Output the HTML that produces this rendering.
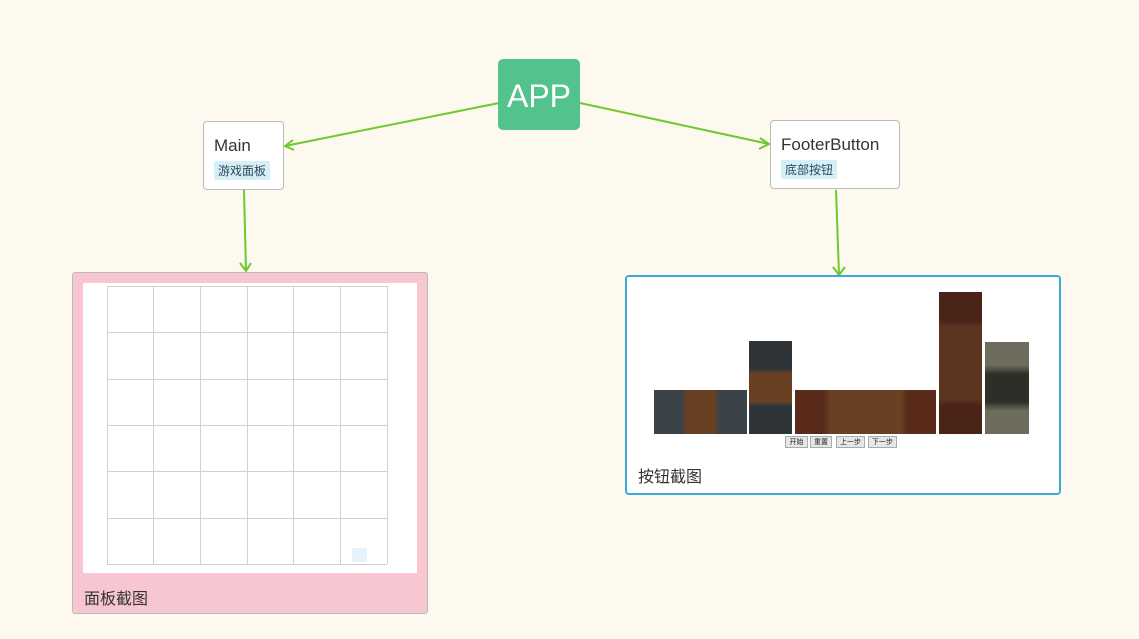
<!DOCTYPE html>
<html><head><meta charset="utf-8"><style>
body{margin:0;width:1139px;height:639px;background:#fdf9ee;position:relative;overflow:hidden;font-family:"Liberation Sans","Noto Sans CJK SC",sans-serif}
.a{position:absolute;box-sizing:border-box}
.node{background:#fff;border:1px solid #bbb;border-radius:4px;color:#333}
.tag{position:absolute;background:#d5eef7;color:#2b4a5a;font-size:12px;padding:1px 4px;border-radius:2px}
.btn{position:absolute;top:436px;height:12px;background:#e6e6e6;border:1px solid #aaa;font-size:7px;line-height:11px;text-align:center;box-sizing:border-box;color:#222}
</style></head><body>
<svg class="a" style="left:0;top:0" width="1139" height="639">
<g stroke="#6fc82e" stroke-width="2" fill="none">
<line x1="499" y1="103" x2="285" y2="146"/><polyline points="293,140 285,146 294,150"/>
<line x1="580" y1="103" x2="769" y2="144"/><polyline points="760,138 769,144 759,149"/>
<line x1="244" y1="190" x2="246" y2="271"/><polyline points="240,263 246,271 251,263"/>
<line x1="836" y1="190" x2="839" y2="275"/><polyline points="833,267 839,275 845,267"/>
</g></svg>
<div class="a" style="left:498px;top:59px;width:82px;height:71px;background:#52c48b;border-radius:5px;color:#fff;font-size:32px;text-align:center;line-height:74px">APP</div>
<div class="a node" style="left:203px;top:121px;width:81px;height:69px"><div style="position:absolute;left:10px;top:14px;font-size:17px">Main</div><div class="tag" style="left:10px;top:39px">游戏面板</div></div>
<div class="a node" style="left:770px;top:120px;width:130px;height:69px"><div style="position:absolute;left:10px;top:14px;font-size:17px">FooterButton</div><div class="tag" style="left:10px;top:39px">底部按钮</div></div>
<div class="a" style="left:72px;top:272px;width:356px;height:342px;background:#f8c6d0;border:1px solid #bbb;border-radius:3px">
<div style="position:absolute;left:10px;top:10px;width:334px;height:290px;background:#fff"></div>
<div style="position:absolute;left:11px;top:312px;font-size:16px;color:#333">面板截图</div></div>
<svg class="a" style="left:0;top:0" width="1139" height="639"><g stroke="#d0d0d0" stroke-width="1">
<line x1="107.5" y1="286" x2="107.5" y2="564"/><line x1="153.5" y1="286" x2="153.5" y2="564"/><line x1="200.5" y1="286" x2="200.5" y2="564"/><line x1="247.5" y1="286" x2="247.5" y2="564"/><line x1="293.5" y1="286" x2="293.5" y2="564"/><line x1="340.5" y1="286" x2="340.5" y2="564"/><line x1="387.5" y1="286" x2="387.5" y2="564"/>
<line x1="107" y1="286.5" x2="387" y2="286.5"/><line x1="107" y1="332.5" x2="387" y2="332.5"/><line x1="107" y1="379.5" x2="387" y2="379.5"/><line x1="107" y1="425.5" x2="387" y2="425.5"/><line x1="107" y1="471.5" x2="387" y2="471.5"/><line x1="107" y1="518.5" x2="387" y2="518.5"/><line x1="107" y1="564.5" x2="387" y2="564.5"/>
</g><rect x="352" y="548" width="15" height="14" fill="#e6f2fb"/></svg>
<div class="a" style="left:625px;top:275px;width:436px;height:220px;background:#fff;border:2px solid #3aa8d8;border-radius:4px">
<div style="position:absolute;left:11px;top:186px;font-size:16px;color:#333">按钮截图</div></div>
<div class="a" style="left:654px;top:390px;width:93px;height:44px;background:linear-gradient(90deg,#3a4348 0 30%,#6a4022 35% 65%,#3a4348 70%)"></div>
<div class="a" style="left:749px;top:341px;width:43px;height:93px;background:linear-gradient(#2f3438 0 30%,#6a4022 35% 65%,#2f3438 70%)"></div>
<div class="a" style="left:795px;top:390px;width:141px;height:44px;background:linear-gradient(90deg,#5a2a1a 0 20%,#6a4022 25% 75%,#5a2a1a 80%)"></div>
<div class="a" style="left:939px;top:292px;width:43px;height:142px;background:linear-gradient(#4a2418 0 20%,#5c3420 25% 75%,#4a2418 80%)"></div>
<div class="a" style="left:985px;top:342px;width:44px;height:92px;background:linear-gradient(#6e6c5c 0 25%,#2c2e28 35% 65%,#6e6c5c 75%)"></div>
<div class="btn" style="left:785px;width:23px">开始</div>
<div class="btn" style="left:810px;width:22px">重置</div>
<div class="btn" style="left:836px;width:29px">上一步</div>
<div class="btn" style="left:868px;width:29px">下一步</div>
</body></html>
